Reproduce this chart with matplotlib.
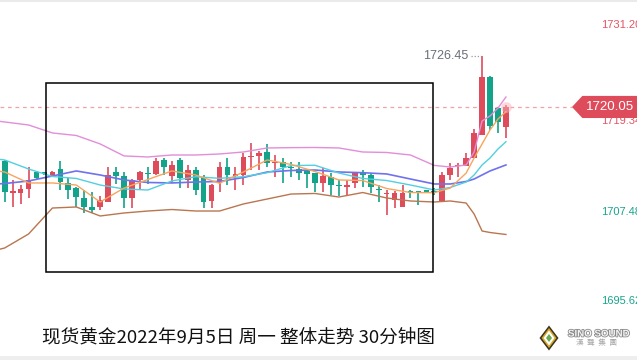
import numpy as np
import matplotlib.pyplot as plt
from matplotlib.patches import Rectangle, Polygon
import matplotlib.patheffects as pe

plt.rcParams['font.family'] = ['Liberation Sans', 'DejaVu Sans']

# spot gold, 30 minute candles
opens = [1713.25, 1709.16, 1709.16, 1709.67, 1711.83, 1711.83, 1711.20, 1712.20, 1710.43, 1709.80,
         1708.53, 1707.39, 1707.39, 1708.06, 1711.86, 1711.32, 1708.53, 1710.81, 1711.74, 1711.57,
         1713.34, 1711.32, 1713.34, 1710.81, 1712.08, 1711.20, 1708.15, 1710.39, 1712.49, 1711.35,
         1711.44, 1713.66, 1713.85, 1714.39, 1712.96, 1713.13, 1712.45, 1712.16, 1711.99, 1711.66,
         1710.47, 1711.23, 1710.11, 1709.96, 1710.47, 1711.66, 1711.44, 1709.61, 1709.04, 1708.28,
         1707.43, 1709.45, 1709.35, 1709.54, 1709.35, 1708.06, 1711.44, 1712.58, 1712.58, 1713.56,
         1716.51, 1723.89, 1719.89, 1717.48]
highs = [1713.34, 1710.81, 1710.18, 1712.46, 1711.96, 1711.83, 1711.89, 1713.21, 1711.07, 1709.92,
         1709.54, 1709.29, 1708.78, 1712.50, 1712.50, 1711.86, 1710.94, 1711.89, 1712.46, 1713.59,
         1713.59, 1713.21, 1713.59, 1712.71, 1712.46, 1711.44, 1710.30, 1713.12, 1713.59, 1712.50,
         1714.27, 1715.45, 1714.48, 1715.37, 1713.97, 1713.55, 1713.13, 1713.13, 1712.08, 1711.70,
         1712.29, 1711.66, 1710.81, 1710.81, 1711.86, 1712.08, 1711.57, 1710.18, 1709.54, 1709.41,
         1710.18, 1709.54, 1709.41, 1709.54, 1709.80, 1711.82, 1712.92, 1712.92, 1714.19, 1717.23,
         1726.45, 1723.95, 1720.09, 1720.30]
lows = [1708.06, 1707.39, 1707.77, 1708.53, 1710.94, 1711.50, 1711.13, 1709.54, 1708.40, 1707.39,
        1706.63, 1706.63, 1707.01, 1708.02, 1710.30, 1707.26, 1707.26, 1709.54, 1710.30, 1711.44,
        1711.44, 1710.43, 1709.80, 1709.80, 1708.91, 1707.26, 1707.26, 1709.33, 1710.18, 1709.54,
        1710.18, 1712.08, 1712.08, 1712.49, 1711.23, 1710.39, 1711.23, 1710.81, 1709.80, 1709.33,
        1709.33, 1708.91, 1708.78, 1708.91, 1709.76, 1709.96, 1709.12, 1708.06, 1706.38, 1707.23,
        1707.39, 1708.53, 1707.64, 1709.16, 1708.91, 1708.06, 1710.81, 1711.23, 1712.58, 1713.56,
        1716.51, 1717.14, 1716.72, 1716.09]
closes = [1709.32, 1709.41, 1709.67, 1710.81, 1711.07, 1711.57, 1711.83, 1710.56, 1709.54, 1708.66,
          1707.39, 1707.01, 1708.28, 1711.44, 1711.35, 1708.57, 1710.81, 1711.83, 1711.53, 1713.21,
          1712.49, 1712.71, 1711.07, 1712.08, 1709.54, 1708.03, 1710.18, 1712.49, 1711.44, 1711.53,
          1713.76, 1713.78, 1714.27, 1712.92, 1713.09, 1712.49, 1712.33, 1711.73, 1711.57, 1710.47,
          1711.32, 1710.18, 1709.99, 1710.18, 1711.66, 1711.44, 1709.96, 1709.48, 1709.20, 1709.20,
          1709.20, 1709.20, 1709.23, 1709.20, 1709.29, 1711.44, 1712.37, 1712.71, 1713.56, 1716.72,
          1723.89, 1717.65, 1718.19, 1720.05]

# indicator lines, sampled at these candle numbers
line_idx = [-1, 0, 3, 6, 9, 12, 15, 18, 21, 24, 27, 30, 33, 36, 39, 42, 45, 48, 51, 54,
            56, 58, 59, 60, 61, 62, 63]
ma5 = [1711.95, 1711.82, 1710.43, 1710.43, 1710.17, 1708.02, 1709.79, 1710.87, 1711.95, 1711.44,
       1710.39, 1711.82, 1713.34, 1712.77, 1711.88, 1710.81, 1710.74, 1709.73, 1709.22, 1709.20,
       1709.79, 1711.69, 1713.59, 1715.37, 1717.14, 1718.53, 1719.45]
ma10 = [1713.46, 1713.34, 1712.20, 1711.25, 1711.00, 1710.17, 1709.67, 1709.54, 1710.68, 1711.22,
        1711.02, 1711.22, 1711.73, 1712.64, 1712.67, 1711.69, 1711.00, 1710.74, 1710.17, 1709.54,
        1709.86, 1710.55, 1711.44, 1712.71, 1713.59, 1714.73, 1715.65]
ma20 = [1710.30, 1710.36, 1710.68, 1711.31, 1711.95, 1711.44, 1710.81, 1710.49, 1710.43, 1710.55,
        1710.62, 1711.12, 1711.82, 1712.01, 1712.07, 1711.82, 1711.73, 1711.57, 1710.93, 1710.30,
        1710.30, 1710.62, 1710.93, 1711.44, 1711.95, 1712.33, 1712.71]
boll_up = [1718.28, 1718.15, 1717.77, 1716.76, 1716.44, 1715.37, 1713.85, 1713.72, 1713.97, 1713.97,
           1714.10, 1714.35, 1714.86, 1714.90, 1714.92, 1714.86, 1714.35, 1714.29, 1713.97, 1712.65,
           1712.45, 1712.71, 1714.35, 1718.28, 1718.91, 1719.92, 1721.31]
boll_dn = [1701.95, 1702.20, 1703.97, 1707.26, 1707.39, 1706.25, 1706.63, 1706.88, 1707.07, 1706.88,
           1706.88, 1707.77, 1708.40, 1709.03, 1709.10, 1708.65, 1709.22, 1708.53, 1708.15, 1708.02,
           1708.15, 1707.89, 1706.50, 1704.35, 1704.16, 1704.03, 1703.91]

last_price = 1720.05
session_high = 1726.45
axis_prices = [1731.20, 1719.34, 1707.48, 1695.62]
axis_colors = ['#e25563', '#e25563', '#18a48c', '#18a48c']
axis_shift = [-6, -8, -6, -1]   # label offset in px
title = '现货黄金2022年9月5日 周一 整体走势 30分钟图'

up_c = '#de4b5b'
dn_c = '#12a38a'

fig = plt.figure(figsize=(6.37, 3.6), dpi=100)
ax = fig.add_axes([0, 0, 1, 1])
ax.set_xlim(-0.59, 79.47)
ax.set_ylim(1688.02, 1733.59)
ax.axis('off')

for i in range(len(opens)):
    o, h, l, c = opens[i], highs[i], lows[i], closes[i]
    col = up_c if c >= o else dn_c
    ax.vlines(i, l, h, color=col, lw=1.2, zorder=2)
    ax.add_patch(Rectangle((i - 0.36, min(o, c)), 0.72, max(abs(c - o), 0.16),
                           color=col, lw=0, zorder=2))

ax.plot(line_idx, boll_up, color='#e28ed9', lw=1.0, zorder=3)
ax.plot(line_idx, boll_dn, color='#b97650', lw=1.0, zorder=3)
ax.plot(line_idx, ma20, color='#6f72ee', lw=1.2, zorder=3)
ax.plot(line_idx, ma10, color='#52cfe0', lw=1.0, zorder=3)
ax.plot(line_idx, ma5, color='#f7a55e', lw=1.0, zorder=3)

# last price
ax.plot([-0.59, 71.3], [last_price, last_price], color='#f0a2aa', lw=0.9,
        dashes=(3, 3), zorder=1)
ax.scatter([63], [last_price], s=60, color='#f6b5bd', alpha=0.5, lw=0, zorder=3)
ax.add_patch(Polygon([(71.3, last_price), (72.6, last_price + 1.4), (79.5, last_price + 1.4),
                      (79.5, last_price - 1.4), (72.6, last_price - 1.4)],
                     closed=True, color='#de4b5b', lw=0, zorder=6))
ax.text(76.1, last_price, f'{last_price:.2f}', color='white', fontsize=9.6,
        ha='center', va='center', zorder=7)

# session high
ax.text(58.3, session_high, f'{session_high:.2f}', color='#6b6f7a', fontsize=9,
        ha='right', va='center')
ax.plot([58.6, 59.9], [session_high, session_high], color='#9a9aa2', lw=0.9,
        dashes=(1, 1.5))

# right axis labels (cut by the right edge, as in the source)
for p, col, dy in zip(axis_prices, axis_colors, axis_shift):
    ax.annotate(f'{p:.2f}', (75.0, p), xytext=(0, dy * 0.72), textcoords='offset points',
                color=col, fontsize=8, ha='left', va='center', zorder=5)

# frame drawn on the chart
ax.add_patch(Rectangle((5.19, 1699.16), 48.64, 23.93, fill=False, ec='black', lw=1.1, zorder=5))

# top rule and bottom strip
fig.add_artist(plt.Line2D([0, 1], [0.996, 0.996], color='#e6e6e6', lw=1.2))
fig.add_artist(Rectangle((0, 0), 1, 4 / 360, color='#eeeeee', lw=0))

fig.text(42 / 637, 1 - 337 / 360, title, fontsize=13.4, va='center', ha='left',
         color='#111111', family=['Noto Sans CJK SC', 'DejaVu Sans'])

# logo
cx, cy = 549 / 637, 1 - 338 / 360
for w, h, col in [(9.5, 12.5, '#3b3422'), (7.5, 10, '#d6a82a'), (5.5, 7.5, '#ffffff'), (3, 4, '#6aa84f')]:
    fig.add_artist(Polygon([(cx - w / 637, cy), (cx, cy + h / 360), (cx + w / 637, cy), (cx, cy - h / 360)],
                           closed=True, color=col, lw=0, transform=fig.transFigure))
fig.text(568 / 637, 1 - 333.5 / 360, 'SINO SOUND', fontsize=7, fontweight='bold', color='#f4f4f4',
         va='center', ha='left',
         path_effects=[pe.withStroke(linewidth=1.2, foreground='#8a8a8a')])
fig.text(597 / 637, 1 - 343.5 / 360, '漢  聲  集  團', fontsize=5.5, color='#a8a8a8', va='center',
         ha='center', family=['Noto Sans CJK TC', 'DejaVu Sans'])

fig.savefig('out.png', dpi=100)
